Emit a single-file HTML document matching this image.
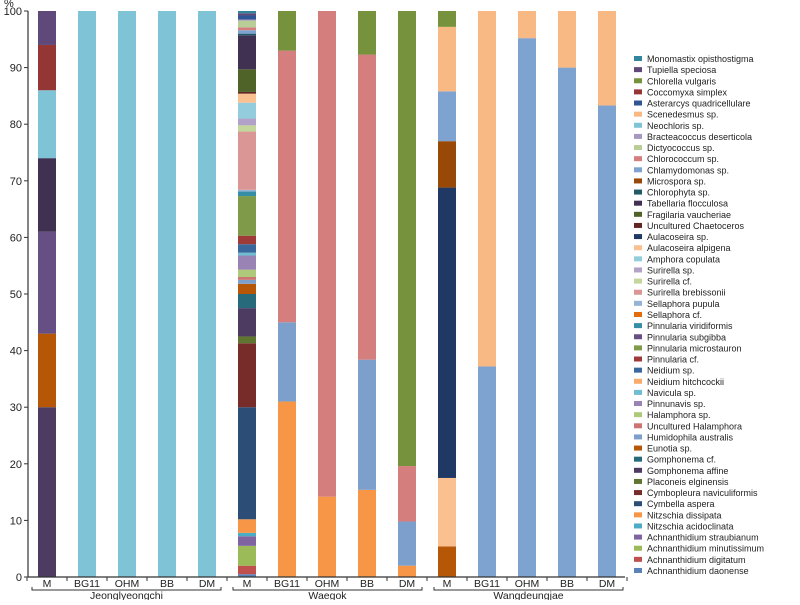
<!DOCTYPE html>
<html><head><meta charset="utf-8"><style>
body{margin:0;background:#fff;}
svg text{font-family:"Liberation Sans",sans-serif;fill:#222;}
</style></head><body>
<svg id="chart" width="800" height="600"></svg>
<script>
const speciesNames=["Achnanthidium daonense","Achnanthidium digitatum","Achnanthidium minutissimum","Achnanthidium straubianum","Nitzschia acidoclinata","Nitzschia dissipata","Cymbella aspera","Cymbopleura naviculiformis","Placoneis elginensis","Gomphonema affine","Gomphonema cf.","Eunotia sp.","Humidophila australis","Uncultured Halamphora","Halamphora sp.","Pinnunavis sp.","Navicula sp.","Neidium hitchcockii","Neidium sp.","Pinnularia cf.","Pinnularia microstauron","Pinnularia subgibba","Pinnularia viridiformis","Sellaphora cf.","Sellaphora pupula","Surirella brebissonii","Surirella cf.","Surirella sp.","Amphora copulata","Aulacoseira alpigena","Aulacoseira sp.","Uncultured Chaetoceros","Fragilaria vaucheriae","Tabellaria flocculosa","Chlorophyta sp.","Microspora sp.","Chlamydomonas sp.","Chlorococcum sp.","Dictyococcus sp.","Bracteacoccus deserticola","Neochloris sp.","Scenedesmus sp.","Asterarcys quadricellulare","Coccomyxa simplex","Chlorella vulgaris","Tupiella speciosa","Monomastix opisthostigma"];
const speciesColors=["#5b82b8","#c0504d","#9bbb59","#8064a2","#4bacc6","#f79646","#2c4d75","#772c2a","#5f7530","#4d3b62","#276a7c","#b65708","#7d9fcc","#cd7371","#afc97a","#9983b5","#6fbdd1","#f9ab6b","#3a679c","#9e3a38","#7f9a48","#664f83","#358ea6","#e46c0a","#95b3d7","#d99694","#c3d69b","#b3a2c7","#93cddd","#fac090","#1f3864","#632523","#4f6228","#403152","#215967","#984807","#7ea3d0","#d47f7d","#b9cd96","#a898c1","#7fc3d7","#f9b984","#2f5597","#943634","#76923c","#5f497a","#31859c"];
const categories=["M","BG11","OHM","BB","DM","M","BG11","OHM","BB","DM","M","BG11","OHM","BB","DM"];
const groups=["Jeonglyeongchi","Waegok","Wangdeungjae"];
const yTicks=[0,10,20,30,40,50,60,70,80,90,100];
// segments per bar: species indices and percent values (stacked bottom to top)
const barSpecies=[
[9,11,21,33,40,43,45],[40],[40],[40],[40],
[0,1,2,3,4,5,6,7,8,9,10,11,12,13,14,15,16,18,19,20,22,24,25,26,27,28,29,31,32,33,34,36,37,38,39,42,45,46],
[5,12,37,44],[5,37],[5,12,37,44],[5,12,37,44],
[11,29,30,35,36,41,44],[36,41],[36,41],[36,41],[36,41]];
const barValues=[
[30,13,18,13,12,8,6],[100],[100],[100],[100],
[0.5,1.5,3.5,1.7,0.6,2.4,19.8,11.3,1.2,5,2.5,1.8,0.7,0.5,1.3,2.5,0.5,1.5,1.5,7,0.8,0.3,10.3,1.1,1.2,2.8,1.6,0.3,4,6,0.3,0.6,0.5,1.2,0.2,0.7,0.4,0.4],
[31,14,48,7],[14.2,85.8],[15.4,23,53.9,7.7],[2,7.8,9.8,80.4],
[5.4,12.1,51.3,8.2,8.8,11.4,2.8],[37.2,62.8],[95.2,4.8],[90,10],[83.3,16.7]];

const svg=document.getElementById('chart');
const NS='http://www.w3.org/2000/svg';
function mk(tag,attrs,parent){const e=document.createElementNS(NS,tag);for(const k in attrs)e.setAttribute(k,attrs[k]);(parent||svg).appendChild(e);return e;}
const y0=577,y100=11,x0=28,step=40,bw=18;
function yScale(v){return y0-(y0-y100)*v/100;}
function xCenter(i){return 47+step*i;}

categories.forEach((c,i)=>{
  const g=mk('g',{});
  
  
  let acc=0;
  barSpecies[i].forEach((s,j)=>{
    const v=barValues[i][j];
    const r=mk('rect',{x:xCenter(i)-bw/2,y:yScale(acc+v),width:bw,height:yScale(acc)-yScale(acc+v),fill:speciesColors[s]},g);
    
    
    acc+=v;
  });
});

const ya=mk('g',{});


mk('line',{x1:x0,y1:y100,x2:x0,y2:y0,stroke:'#333','stroke-width':1.2},ya);
yTicks.forEach(t=>{
  mk('line',{x1:x0-4,y1:yScale(t),x2:x0,y2:yScale(t),stroke:'#333'},ya);
  const tx=mk('text',{x:x0-6,y:yScale(t)+4,'text-anchor':'end','font-size':11},ya);
  tx.textContent=t;
  
  
});
const pct=mk('text',{x:4,y:7,'font-size':11});
pct.textContent='%';



const xa=mk('g',{});


mk('line',{x1:x0,y1:y0,x2:625,y2:y0,stroke:'#333','stroke-width':1.2},xa);
for(let i=0;i<=categories.length;i++){const x=27+step*i;mk('line',{x1:x,y1:y0,x2:x,y2:y0+4,stroke:'#333'},xa);}
categories.forEach((c,i)=>{
  const t=mk('text',{x:xCenter(i),y:y0+10,'text-anchor':'middle','font-size':10.5},xa);
  t.textContent=c;
  
  
});
groups.forEach((gname,k)=>{
  const a=32+201*k,b=221+201*k;
  mk('path',{d:`M${a} ${y0+10}V${y0+13}H${b}V${y0+10}`,fill:'none',stroke:'#333'},xa);
  const t=mk('text',{x:(a+b)/2,y:y0+22,'text-anchor':'middle','font-size':10.5},xa);
  t.textContent=gname;
  
  
});

const lg=mk('g',{});


for(let k=0;k<speciesNames.length;k++){
  const s=speciesNames.length-1-k;
  const y=59+k*11.13;
  const e=mk('g',{},lg);
  
  
  mk('rect',{x:634,y:y-3,width:8,height:5,fill:speciesColors[s]},e);
  const t=mk('text',{x:647,y:y+3,'font-size':9},e);
  t.textContent=speciesNames[s];
}
</script>
</body></html>
